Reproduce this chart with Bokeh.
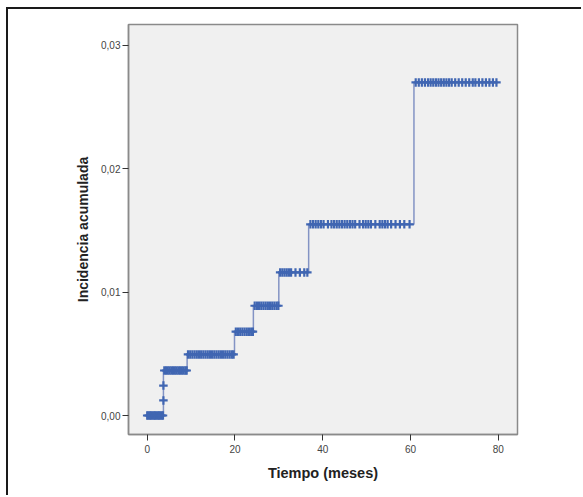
from bokeh.plotting import figure
from bokeh.models import FixedTicker, CustomJSTickFormatter, Range1d
from bokeh.embed import file_html
from bokeh.resources import INLINE

# Step function (Kaplan-Meier style cumulative incidence)
event_times = [0, 3.7, 9.1, 19.9, 24.2, 30.0, 36.8, 60.8, 80.0]
levels = [0.0, 0.00365, 0.00495, 0.0068, 0.0089, 0.0116, 0.0155, 0.0270, 0.0270]

# Censor marks (time, level)
cens_t0 = [0.0, 0.3, 0.6, 0.9, 1.2, 1.5, 1.8, 2.1, 2.4, 2.7, 3.0, 3.3, 3.6]
cens_t1 = [3.9, 4.3, 4.7, 5.1, 5.5, 5.9, 6.3, 6.7, 7.1, 7.5, 7.9, 8.3, 8.7, 9.0]
cens_t2 = [9.3, 9.8, 10.3, 10.8, 11.3, 11.8, 12.3, 12.8, 13.3, 13.8, 14.3, 14.8,
           15.3, 15.8, 16.3, 16.8, 17.3, 17.8, 18.3, 18.8, 19.3, 19.7]
cens_t3 = [20.2, 20.7, 21.2, 21.7, 22.2, 22.7, 23.2, 23.7, 24.1]
cens_t4 = [24.5, 25.0, 25.5, 26.0, 26.5, 27.0, 27.5, 28.0, 28.5, 29.0, 29.5, 29.9]
cens_t5 = [30.3, 30.8, 31.3, 31.8, 32.3, 32.8, 33.8, 34.8, 35.8, 36.5]
cens_t6 = [37.2, 37.8, 38.4, 39.0, 39.6, 40.2, 41.2, 42.0, 42.6, 43.2, 43.8, 44.4,
           45.0, 45.6, 46.2, 46.8, 47.4, 48.4, 49.2, 49.8, 50.4, 51.0, 52.0, 53.0,
           53.6, 54.2, 54.8, 55.6, 56.6, 57.6, 58.6, 59.8]
cens_t7 = [61.2, 61.9, 62.6, 63.3, 64.0, 64.6, 65.2, 65.8, 66.4, 67.0, 67.6, 68.2,
           68.8, 69.4, 70.2, 71.0, 71.8, 72.6, 73.4, 74.2, 74.8, 75.6, 76.4, 77.2,
           78.0, 78.8, 79.6]
tie_t = [3.7, 3.7]
tie_y = [0.00122, 0.00243]

cens_groups = [cens_t0, cens_t1, cens_t2, cens_t3, cens_t4, cens_t5, cens_t6, cens_t7]

cx, cy = [], []
for lv, ts in zip(levels, cens_groups):
    cx.extend(ts)
    cy.extend([lv] * len(ts))
cx.extend(tie_t)
cy.extend(tie_y)

x_ticks = [0, 20, 40, 60, 80]
y_ticks = [0.0, 0.01, 0.02, 0.03]

p = figure(width=575, height=488, output_backend="svg", toolbar_location=None,
           x_range=Range1d(-4.26, 84.4), y_range=Range1d(-0.00154, 0.0317),
           min_border_left=120, min_border_top=15, min_border_right=66,
           min_border_bottom=63)
p.styles = {"margin-left": "6px", "margin-top": "7px",
            "border-left": "2px solid #1a1a1a", "border-top": "2px solid #1a1a1a"}

p.background_fill_color = "#f0f0f0"
p.border_fill_color = "white"
p.outline_line_color = "#8a8a8a"
p.outline_line_width = 1.5
p.grid.visible = False

p.step(event_times, levels, mode="after", line_color="#8393c4", line_width=1.5)
p.scatter(cx, cy, marker="cross", size=8.5, line_color="#4066b2", line_width=2.2)

for ax in (p.xaxis[0], p.yaxis[0]):
    ax.axis_line_color = "#8a8a8a"
    ax.axis_line_width = 1.5
    ax.major_tick_line_color = "#333333"
    ax.major_tick_line_width = 1
    ax.major_tick_in = 0
    ax.major_tick_out = 6
    ax.minor_tick_line_color = None
    ax.major_label_text_font = "Liberation Sans"
    ax.major_label_text_font_size = "10px"
    ax.major_label_text_color = "#444444"
    ax.axis_label_text_font = "Liberation Sans"
    ax.axis_label_text_font_style = "bold"
    ax.axis_label_text_color = "#222222"

p.xaxis[0].ticker = FixedTicker(ticks=x_ticks)
p.yaxis[0].ticker = FixedTicker(ticks=y_ticks)
p.yaxis[0].formatter = CustomJSTickFormatter(code="return tick.toFixed(2).replace('.', ',');")
p.xaxis[0].formatter = CustomJSTickFormatter(code="return tick.toFixed(0);")
p.xaxis[0].axis_label = "Tiempo (meses)"
p.yaxis[0].axis_label = "Incidencia acumulada"
p.xaxis[0].axis_label_text_font_size = "14.5px"
p.yaxis[0].axis_label_text_font_size = "14px"
p.xaxis[0].major_label_standoff = 4
p.yaxis[0].major_label_standoff = 2
p.xaxis[0].axis_label_standoff = 9
p.yaxis[0].axis_label_standoff = 7

open("out.html", "w").write(file_html(p, INLINE))
